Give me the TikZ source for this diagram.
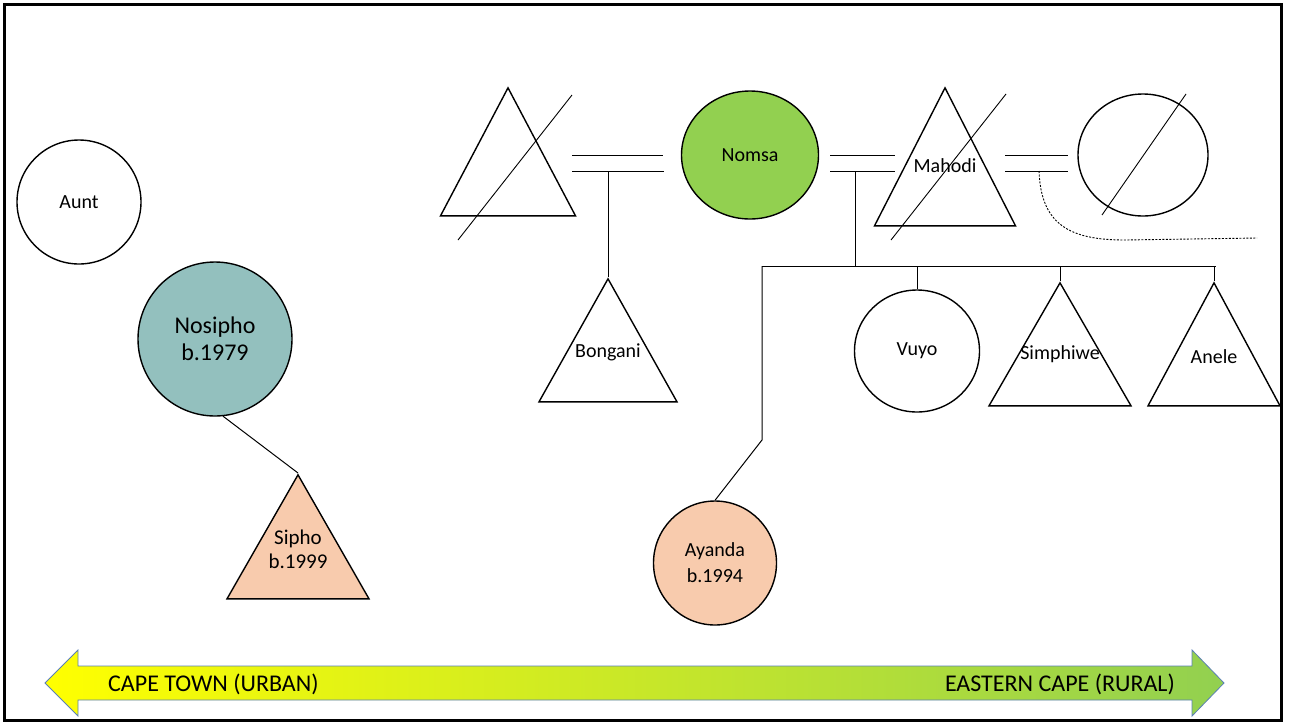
\documentclass[tikz,border=0pt]{standalone}
\usepackage{fontspec}
\setmainfont{Carlito}
\usetikzlibrary{shapes.geometric}
\definecolor{nosiphoteal}{HTML}{93C0BE}
\definecolor{nomsagreen}{HTML}{92D050}
\definecolor{peach}{HTML}{F8CBAD}
\definecolor{arrowedge}{HTML}{5A7FB5}
\definecolor{urbanyellow}{HTML}{FFFF00}
\tikzset{
 person/.style={draw, line width=1.4pt, inner sep=0pt, font=\fontsize{20}{24}\selectfont, align=center},
 female/.style={person, ellipse},
 male/.style={person, isosceles triangle, isosceles triangle stretches, shape border rotate=90, anchor=apex},
 tag/.style={inner sep=0pt, font=\fontsize{20}{24}\selectfont, align=center},
 tie/.style={line width=1pt},
 cross/.style={line width=0.9pt}
}
\begin{document}
\begin{tikzpicture}[x=1pt,y=-1pt]
\useasboundingbox (0,0) rectangle (1290,724);
\draw[line width=3pt] (4.5,4.5) rectangle (1281.5,720.5);

\path (79,202) node[female, minimum width=124, minimum height=124, name=aunt] {Aunt};
\path (215,339) node[female, fill=nosiphoteal, minimum width=154, minimum height=154, font=\fontsize{24}{27}\selectfont, name=nosipho] {Nosipho\\b.1979};
\path (298,473) node[male, fill=peach, minimum width=142, minimum height=124, name=sipho] {};
\path (sipho.apex) +(0,76) node[tag, font=\fontsize{21}{24}\selectfont, name=sipho-t] {Sipho\\b.1999};
\path[tie] (nosipho.-84) edge (sipho.apex);

\path (508,86) node[male, minimum width=135, minimum height=128, name=exhusband] {};
\draw[cross] (458,240) -- (572,95);
\path (750,155) node[female, fill=nomsagreen, minimum width=137, minimum height=128, name=nomsa] {Nomsa};
\path (945,86) node[male, minimum width=141, minimum height=138, name=mahodi] {};
\path (mahodi.apex) +(0,80) node[tag, name=mahodi-t] {Mahodi};
\draw[cross] (891,240) -- (1006,94);
\path (1143,155) node[female, minimum width=130, minimum height=122, name=exwife] {};
\draw[cross] (1102,215) -- (1186,94);

\draw[tie] (572,155) -- (663,155);
\draw[tie] (572,171) -- (664,171);
\coordinate (u1) at (608,171);
\draw[tie] (830,155) -- (895,155);
\draw[tie] (830,171) -- (895,171);
\coordinate (u2) at (855,171);
\draw[tie] (1005,155) -- (1068,155);
\draw[tie] (1005,171) -- (1068,171);
\coordinate (u3) at (1039,171);
\coordinate (trail) at (1257,238);
\draw[line width=0.9pt, dash pattern=on 2pt off 1.5pt] (u3) .. controls (1041,225) and (1070,240) .. (1125,240) -- (trail);

\path (608,277) node[male, minimum width=138, minimum height=123, name=bongani] {};
\path (bongani.apex) +(0,75) node[tag, name=bongani-t] {Bongani};
\path[tie] (u1) edge (bongani.apex);

\coordinate (sib) at (855,266);
\coordinate (sibL) at (762,266);
\coordinate (sibR) at (1216,266);
\coordinate (bend) at (762,440);
\draw[tie] (u2) -- (sib);
\draw[tie] (sibL) -- (sibR);

\path (917,351) node[female, minimum width=125, minimum height=122, name=vuyo] {Vuyo};
\path (1060,281) node[male, minimum width=142, minimum height=123, name=simphiwe] {};
\path (simphiwe.apex) +(0,73) node[tag, name=simphiwe-t] {Simphiwe};
\path (1214,281) node[male, minimum width=132, minimum height=123, name=anele] {};
\path (anele.apex) +(0,76) node[tag, name=anele-t] {Anele};
\path (715,563) node[female, fill=peach, minimum width=123, minimum height=124, font=\fontsize{20}{26}\selectfont, name=ayanda] {Ayanda\\b.1994};

\draw[tie] (vuyo.north |- sib) -- (vuyo.north);
\draw[tie] (simphiwe.apex |- sib) -- (simphiwe.apex);
\draw[tie] (anele.apex |- sib) -- (anele.apex);
\draw[tie] (sibL) -- (bend) -- (ayanda.north);

\draw[draw=arrowedge, line width=0.8pt, left color=urbanyellow, right color=nomsagreen]
 (45,683) -- (78,650) -- (78,666) -- (1192,666) -- (1192,650) -- (1224,683)
 -- (1192,716) -- (1192,700) -- (78,700) -- (78,716) -- cycle;
\path (108,684) node[tag, anchor=west, font=\fontsize{24}{27}\selectfont, name=urban] {CAPE TOWN (URBAN)};
\path (1175,684) node[tag, anchor=east, font=\fontsize{24}{27}\selectfont, name=rural] {EASTERN CAPE (RURAL)};

\end{tikzpicture}
\end{document}
